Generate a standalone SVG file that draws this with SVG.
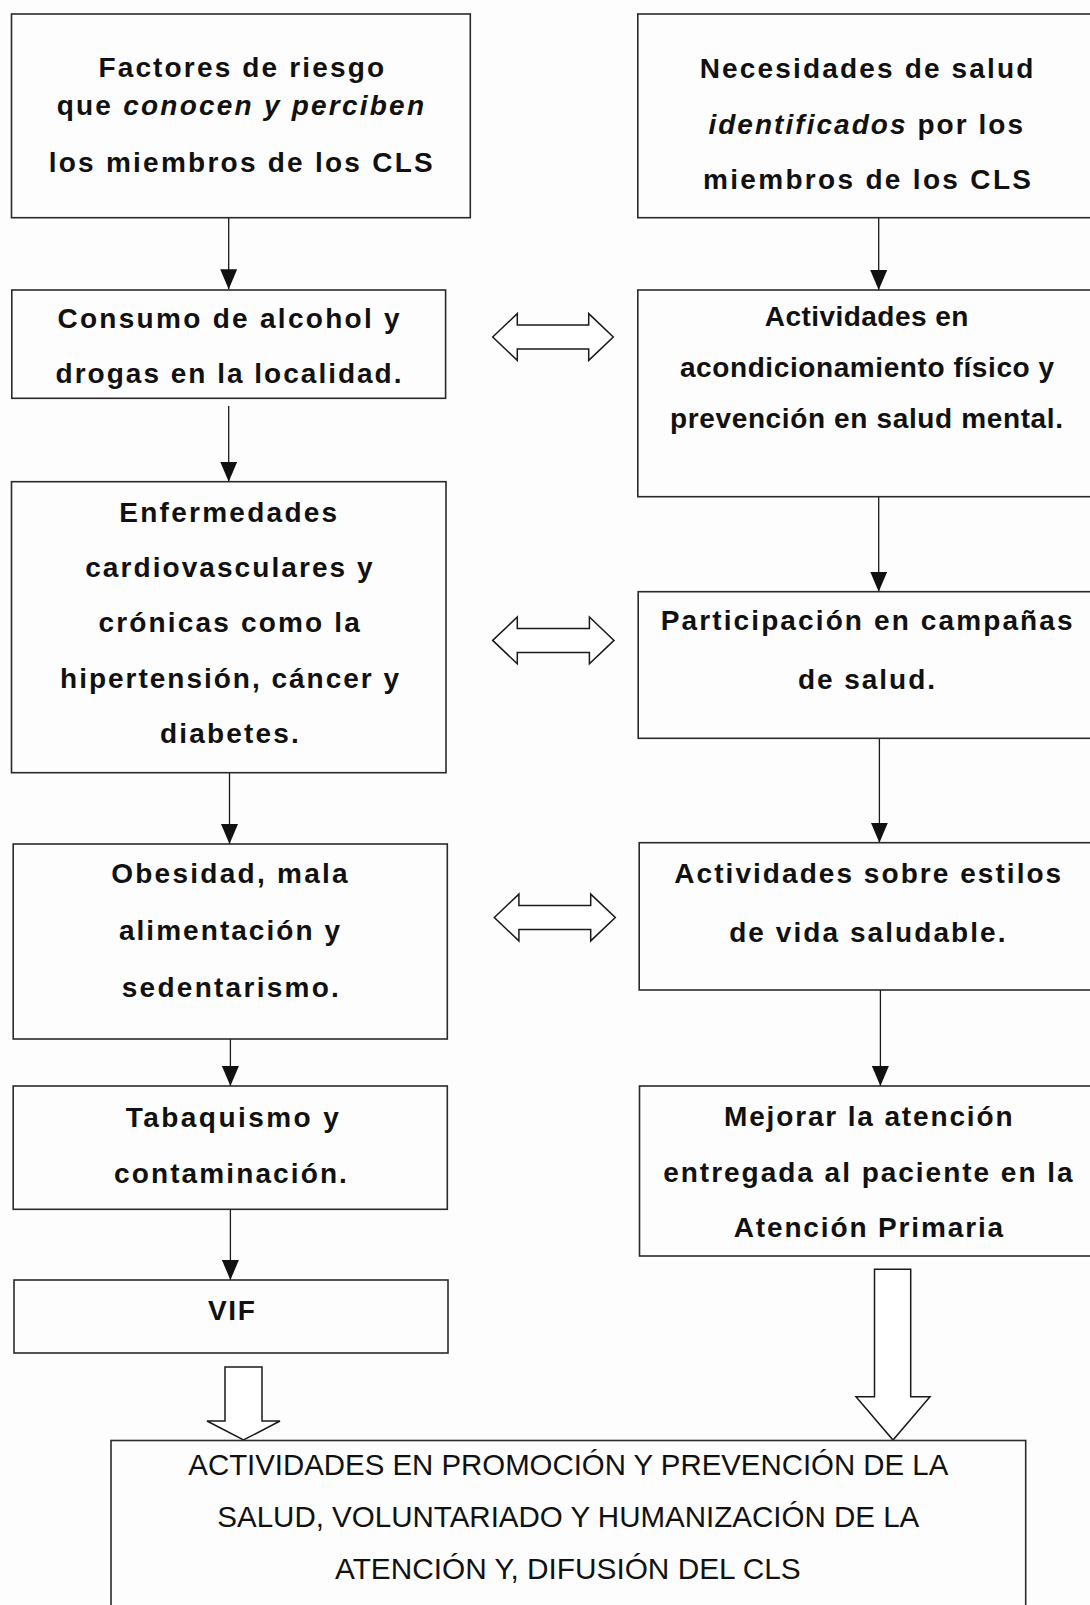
<svg xmlns="http://www.w3.org/2000/svg" width="1090" height="1605" viewBox="0 0 1090 1605">
<style>
.box{fill:none;stroke:#2a2a2a;stroke-width:1.6}
.t{font-family:"Liberation Sans",Arial,sans-serif;font-weight:bold;font-size:28px;fill:#111}
.b{font-family:"Liberation Sans",Arial,sans-serif;font-weight:normal;font-size:30px;fill:#111}
.i{font-style:italic}
.con{stroke:#1a1a1a;stroke-width:1.3;fill:none}
.blk{fill:#fff;stroke:#1a1a1a;stroke-width:1.5;stroke-linejoin:miter}
</style>
<defs>
<marker id="ah" viewBox="0 0 20 17" refX="20" refY="8.5" markerWidth="20" markerHeight="17" markerUnits="userSpaceOnUse" orient="auto">
<path d="M0,0 L20,8.5 L0,17 Z" fill="#111"/>
</marker>
</defs>
<rect width="1090" height="1605" fill="#fdfdfd"/>

<g id="connectors">
<line class="con" x1="228.7" y1="217.7" x2="228.7" y2="289.3" marker-end="url(#ah)"/>
<line class="con" x1="228.7" y1="406" x2="228.7" y2="481.7" marker-end="url(#ah)"/>
<line class="con" x1="229.5" y1="772.7" x2="229.5" y2="844" marker-end="url(#ah)"/>
<line class="con" x1="230.4" y1="1039" x2="230.4" y2="1086" marker-end="url(#ah)"/>
<line class="con" x1="230.4" y1="1209.3" x2="230.4" y2="1280" marker-end="url(#ah)"/>
<line class="con" x1="878.7" y1="217.7" x2="878.7" y2="290" marker-end="url(#ah)"/>
<line class="con" x1="878.7" y1="496.7" x2="878.7" y2="591.7" marker-end="url(#ah)"/>
<line class="con" x1="879.4" y1="738.3" x2="879.4" y2="842.7" marker-end="url(#ah)"/>
<line class="con" x1="880.4" y1="990" x2="880.4" y2="1086" marker-end="url(#ah)"/>
<path class="blk" d="M492.7,337 L517.3,313.6 L517.3,325 L588.7,325 L588.7,313.6 L613.3,337 L588.7,360.4 L588.7,349 L517.3,349 L517.3,360.4 Z"/>
<path class="blk" d="M492.7,640.4 L517.3,617 L517.3,628.4 L589.4,628.4 L589.4,617 L614,640.4 L589.4,663.8 L589.4,652.4 L517.3,652.4 L517.3,663.8 Z"/>
<path class="blk" d="M494.3,917.5 L518.9,894.1 L518.9,905.5 L590.7,905.5 L590.7,894.1 L615.3,917.5 L590.7,940.9 L590.7,929.5 L518.9,929.5 L518.9,940.9 Z"/>
<path class="blk" d="M874.5,1269.3 L910.7,1269.3 L910.7,1396.7 L930,1396.7 L893,1440 L856,1396.7 L874.5,1396.7 Z"/>
<path class="blk" d="M225,1367 L262,1367 L262,1421 L280,1421 L243.5,1440 L207,1421 L225,1421 Z"/>
</g>

<g id="n-factores">
<rect class="box" x="11.5" y="14" width="458.8" height="203.7"/>
<text class="t" x="98.4" y="77.3" textLength="285.6" lengthAdjust="spacing">Factores de riesgo</text>
<text class="t" x="56.7" y="115" textLength="367.3" lengthAdjust="spacing">que <tspan class="i">conocen y perciben</tspan></text>
<text class="t" x="48.7" y="171.7" textLength="384" lengthAdjust="spacing">los miembros de los CLS</text>
</g>

<g id="n-necesidades">
<rect class="box" x="637.8" y="14" width="470" height="203.7"/>
<text class="t" x="699.7" y="78.3" textLength="333.7" lengthAdjust="spacing">Necesidades de salud</text>
<text class="t" x="708.4" y="134.3" textLength="314.6" lengthAdjust="spacing"><tspan class="i">identificados</tspan> por los</text>
<text class="t" x="703" y="189.3" textLength="328" lengthAdjust="spacing">miembros de los CLS</text>
</g>

<g id="n-consumo">
<rect class="box" x="11.8" y="290" width="433.8" height="108.3"/>
<text class="t" x="57.4" y="328.3" textLength="342.3" lengthAdjust="spacing">Consumo de alcohol y</text>
<text class="t" x="55.6" y="382.7" textLength="345.9" lengthAdjust="spacing">drogas en la localidad.</text>
</g>

<g id="n-actividades-fisico">
<rect class="box" x="637.8" y="290" width="470" height="206.7"/>
<text class="t" x="764.7" y="326" textLength="203.7" lengthAdjust="spacing">Actividades en</text>
<text class="t" x="679.9" y="376.7" textLength="374.3" lengthAdjust="spacing">acondicionamiento físico y</text>
<text class="t" x="670" y="427.7" textLength="393" lengthAdjust="spacing">prevención en salud mental.</text>
</g>

<g id="n-enfermedades">
<rect class="box" x="11.5" y="481.7" width="434.5" height="291"/>
<text class="t" x="119.2" y="521.7" textLength="218" lengthAdjust="spacing">Enfermedades</text>
<text class="t" x="85.2" y="576.7" textLength="287.4" lengthAdjust="spacing">cardiovasculares y</text>
<text class="t" x="98.4" y="631.7" textLength="261.4" lengthAdjust="spacing">crónicas como la</text>
<text class="t" x="60.1" y="688.3" textLength="338.9" lengthAdjust="spacing">hipertensión, cáncer y</text>
<text class="t" x="159.9" y="743.3" textLength="139" lengthAdjust="spacing">diabetes.</text>
</g>

<g id="n-participacion">
<rect class="box" x="638.2" y="591.7" width="470" height="146.6"/>
<text class="t" x="660.7" y="630" textLength="411.9" lengthAdjust="spacing">Participación en campañas</text>
<text class="t" x="798" y="689.3" textLength="137" lengthAdjust="spacing">de salud.</text>
</g>

<g id="n-obesidad">
<rect class="box" x="13.2" y="844" width="434.1" height="195"/>
<text class="t" x="111.2" y="883.3" textLength="236.4" lengthAdjust="spacing">Obesidad, mala</text>
<text class="t" x="118.9" y="940" textLength="221.1" lengthAdjust="spacing">alimentación y</text>
<text class="t" x="121.7" y="996.7" textLength="217.2" lengthAdjust="spacing">sedentarismo.</text>
</g>

<g id="n-estilos">
<rect class="box" x="639.2" y="842.7" width="470" height="147.3"/>
<text class="t" x="674.3" y="882.7" textLength="386.9" lengthAdjust="spacing">Actividades sobre estilos</text>
<text class="t" x="729.2" y="941.7" textLength="276.3" lengthAdjust="spacing">de vida saludable.</text>
</g>

<g id="n-tabaquismo">
<rect class="box" x="13.2" y="1086" width="434.1" height="123.3"/>
<text class="t" x="125.8" y="1126.7" textLength="213.1" lengthAdjust="spacing">Tabaquismo y</text>
<text class="t" x="114" y="1182.7" textLength="232.9" lengthAdjust="spacing">contaminación.</text>
</g>

<g id="n-mejorar">
<rect class="box" x="639.5" y="1086" width="470" height="170"/>
<text class="t" x="724" y="1125.7" textLength="288.5" lengthAdjust="spacing">Mejorar la atención</text>
<text class="t" x="663.2" y="1181.7" textLength="409.4" lengthAdjust="spacing">entregada al paciente en la</text>
<text class="t" x="733.7" y="1236.7" textLength="269.4" lengthAdjust="spacing">Atención Primaria</text>
</g>

<g id="n-vif">
<rect class="box" x="14" y="1280" width="434" height="73"/>
<text class="t" x="207.9" y="1320" textLength="46.9" lengthAdjust="spacing">VIF</text>
</g>

<g id="n-actividades-promocion">
<rect class="box" x="111" y="1440.5" width="914.7" height="190"/>
<text class="b" x="188.3" y="1475" textLength="760" lengthAdjust="spacingAndGlyphs">ACTIVIDADES EN PROMOCIÓN Y PREVENCIÓN DE LA</text>
<text class="b" x="217.3" y="1527" textLength="702" lengthAdjust="spacingAndGlyphs">SALUD, VOLUNTARIADO Y HUMANIZACIÓN DE LA</text>
<text class="b" x="335" y="1579" textLength="465.7" lengthAdjust="spacingAndGlyphs">ATENCIÓN Y, DIFUSIÓN DEL CLS</text>
</g>
</svg>
